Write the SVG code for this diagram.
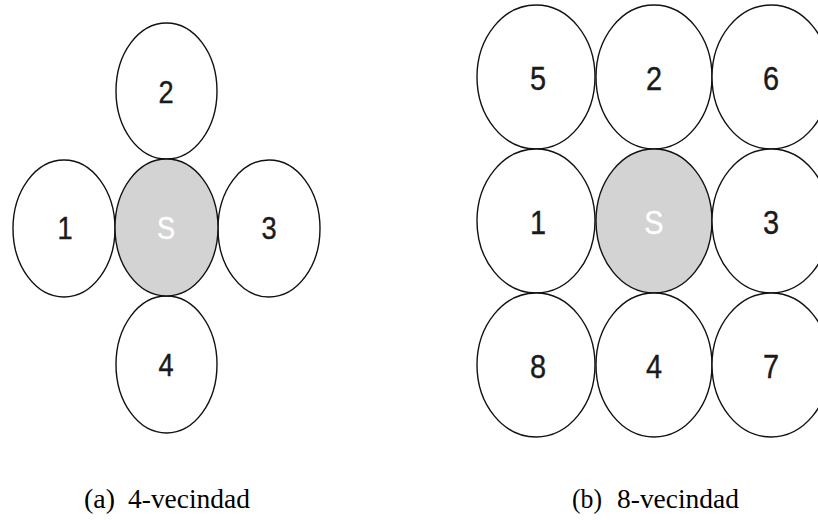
<svg xmlns="http://www.w3.org/2000/svg" width="818" height="520" viewBox="0 0 818 520">
  <style>
    .cell { fill: #ffffff; stroke: #111111; stroke-width: 1.4; }
    .seed { fill: #d3d3d3; stroke: #111111; stroke-width: 1.4; }
    .num { font-family: "Liberation Sans", Arial, sans-serif; fill: #1a1a1a; stroke: #1a1a1a; stroke-width: 0.4; text-anchor: middle; }
    .seedlabel { fill: #ffffff; stroke: #ffffff; }
    .caption { font-family: "Liberation Serif", "Times New Roman", serif; font-size: 28px; fill: #000000; }
  </style>
  <rect width="818" height="520" fill="#ffffff"/>

  <!-- (a) 4-neighbourhood -->
  <g id="four-neighbourhood">
    <g id="a-n2"><ellipse class="cell" cx="166.5" cy="91" rx="50.5" ry="68"/>
      <text class="num" font-size="32" transform="translate(166,103) scale(0.85,1)">2</text></g>
    <g id="a-n1"><ellipse class="cell" cx="64" cy="228.5" rx="51" ry="68.5"/>
      <text class="num" font-size="32" transform="translate(65,239) scale(0.85,1)">1</text></g>
    <g id="a-n3"><ellipse class="cell" cx="269" cy="228.5" rx="51" ry="68.5"/>
      <text class="num" font-size="32" transform="translate(269,239) scale(0.85,1)">3</text></g>
    <g id="a-n4"><ellipse class="cell" cx="166.5" cy="364.5" rx="50.5" ry="68.5"/>
      <text class="num" font-size="32" transform="translate(166,376) scale(0.85,1)">4</text></g>
    <g id="a-s"><ellipse class="seed" cx="166.5" cy="227.5" rx="51.5" ry="68.5"/>
      <text class="num seedlabel" font-size="32" transform="translate(166,239) scale(0.85,1)">S</text></g>
  </g>

  <!-- (b) 8-neighbourhood -->
  <g id="eight-neighbourhood">
    <g id="b-n5"><ellipse class="cell" cx="536" cy="77" rx="59" ry="72"/>
      <text class="num" font-size="34" transform="translate(538,90) scale(0.85,1)">5</text></g>
    <g id="b-n2"><ellipse class="cell" cx="654" cy="77" rx="58" ry="72"/>
      <text class="num" font-size="34" transform="translate(654,90) scale(0.85,1)">2</text></g>
    <g id="b-n6"><ellipse class="cell" cx="771" cy="77" rx="59" ry="72"/>
      <text class="num" font-size="34" transform="translate(771,90) scale(0.85,1)">6</text></g>
    <g id="b-n1"><ellipse class="cell" cx="536" cy="221" rx="59" ry="72"/>
      <text class="num" font-size="34" transform="translate(538,234) scale(0.85,1)">1</text></g>
    <g id="b-s"><ellipse class="seed" cx="654" cy="221" rx="58" ry="72"/>
      <text class="num seedlabel" font-size="34" transform="translate(654,234) scale(0.85,1)">S</text></g>
    <g id="b-n3"><ellipse class="cell" cx="771" cy="221" rx="59" ry="72"/>
      <text class="num" font-size="34" transform="translate(771,234) scale(0.85,1)">3</text></g>
    <g id="b-n8"><ellipse class="cell" cx="536" cy="365" rx="59" ry="72"/>
      <text class="num" font-size="34" transform="translate(538,378) scale(0.85,1)">8</text></g>
    <g id="b-n4"><ellipse class="cell" cx="654" cy="365" rx="58" ry="72"/>
      <text class="num" font-size="34" transform="translate(654,378) scale(0.85,1)">4</text></g>
    <g id="b-n7"><ellipse class="cell" cx="771" cy="365" rx="59" ry="72"/>
      <text class="num" font-size="34" transform="translate(771,378) scale(0.85,1)">7</text></g>
  </g>

  <!-- no connectors: cells touch directly -->
  <g id="connectors"/>

  <g id="captions">
    <text class="caption" y="508"><tspan x="84" textLength="31" lengthAdjust="spacingAndGlyphs">(a)</tspan><tspan x="128" textLength="122" lengthAdjust="spacingAndGlyphs">4-vecindad</tspan></text>
    <text class="caption" y="508"><tspan x="572" textLength="30" lengthAdjust="spacingAndGlyphs">(b)</tspan><tspan x="617" textLength="122" lengthAdjust="spacingAndGlyphs">8-vecindad</tspan></text>
  </g>
</svg>
